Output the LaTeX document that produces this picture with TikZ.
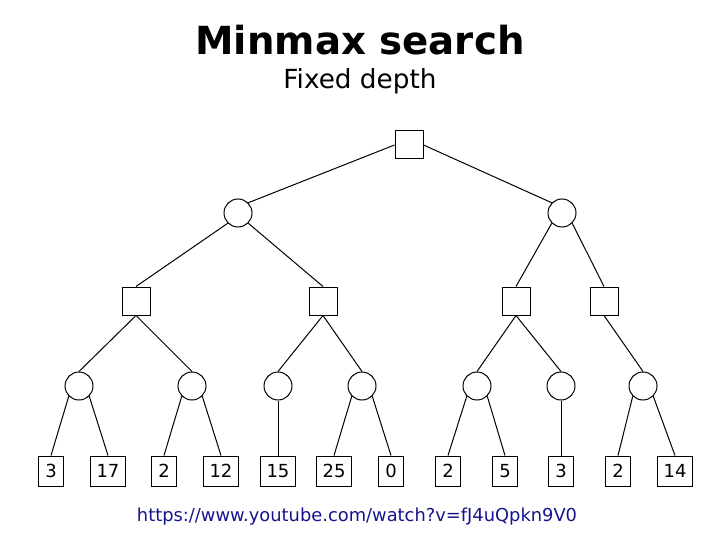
\documentclass[tikz,border=0pt]{standalone}
\usepackage{fontspec}
\setmainfont{DejaVu Sans}
\definecolor{urlblue}{RGB}{20,20,140}
\tikzset{
  sq/.style={draw, line width=1pt, minimum width=28pt, minimum height=28pt, inner sep=0pt},
  cir/.style={draw, circle, line width=1pt, minimum size=28pt, inner sep=0pt},
  leaf/.style={draw, line width=1pt, minimum height=30pt, minimum width=25pt, inner xsep=6.5pt, inner ysep=0pt, font=\fontsize{18pt}{21pt}\selectfont},
  edge/.style={line width=1pt}
}
\begin{document}
\begin{tikzpicture}[x=1pt,y=-1pt]
\useasboundingbox (0,0) rectangle (720,540);
% titles
\node[anchor=base, inner sep=0pt] (title) at (360,55) {\resizebox{329pt}{!}{\bfseries Minmax search}};
\node[anchor=base, inner sep=0pt] (sub) at (360,89) {\resizebox{153pt}{!}{Fixed depth}};
\node[anchor=base, inner sep=0pt, text=urlblue] (url) at (357,521) {\resizebox{440pt}{!}{https://www.youtube.com/watch?v=fJ4uQpkn9V0}};
% tree
\node[sq] (r) at (409,145) {};
\node[cir] (a1) at (238,213) {};
\node[cir] (a2) at (562,213) {};
\node[sq] (b1) at (136,301) {};
\node[sq] (b2) at (323,301) {};
\node[sq] (b3) at (516,301) {};
\node[sq] (b4) at (604,301) {};
\node[cir] (c1) at (79,386) {};
\node[cir] (c2) at (192,386) {};
\node[cir] (c3) at (278,386) {};
\node[cir] (c4) at (362,386) {};
\node[cir] (c5) at (477,386) {};
\node[cir] (c6) at (561,386) {};
\node[cir] (c7) at (643,386) {};
\node[leaf] (l1) at (51,471) {3};
\node[leaf] (l2) at (108,471) {17};
\node[leaf] (l3) at (164,471) {2};
\node[leaf] (l4) at (221,471) {12};
\node[leaf] (l5) at (278,471) {15};
\node[leaf] (l6) at (334,471) {25};
\node[leaf] (l7) at (391,471) {0};
\node[leaf] (l8) at (448,471) {2};
\node[leaf] (l9) at (505,471) {5};
\node[leaf] (l10) at (561,471) {3};
\node[leaf] (l11) at (618,471) {2};
\node[leaf] (l12) at (675,471) {14};
% edges
\draw[edge] (r.west) -- (a1.north east);
\draw[edge] (r.east) -- (a2.north west);
\draw[edge] (a1.south west) -- (b1.north);
\draw[edge] (a1.south east) -- (b2.north);
\draw[edge] (a2.south west) -- (b3.north);
\draw[edge] (a2.south east) -- (b4.north);
\draw[edge] (b1.south) -- (c1.north);
\draw[edge] (b1.south) -- (c2.north);
\draw[edge] (b2.south) -- (c3.north);
\draw[edge] (b2.south) -- (c4.north);
\draw[edge] (b3.south) -- (c5.north);
\draw[edge] (b3.south) -- (c6.north);
\draw[edge] (b4.south) -- (c7.north);
\draw[edge] (c1.south west) -- (l1.north);
\draw[edge] (c1.south east) -- (l2.north);
\draw[edge] (c2.south west) -- (l3.north);
\draw[edge] (c2.south east) -- (l4.north);
\draw[edge] (c3.south) -- (l5.north);
\draw[edge] (c4.south west) -- (l6.north);
\draw[edge] (c4.south east) -- (l7.north);
\draw[edge] (c5.south west) -- (l8.north);
\draw[edge] (c5.south east) -- (l9.north);
\draw[edge] (c6.south) -- (l10.north);
\draw[edge] (c7.south west) -- (l11.north);
\draw[edge] (c7.south east) -- (l12.north);
\end{tikzpicture}
\end{document}
